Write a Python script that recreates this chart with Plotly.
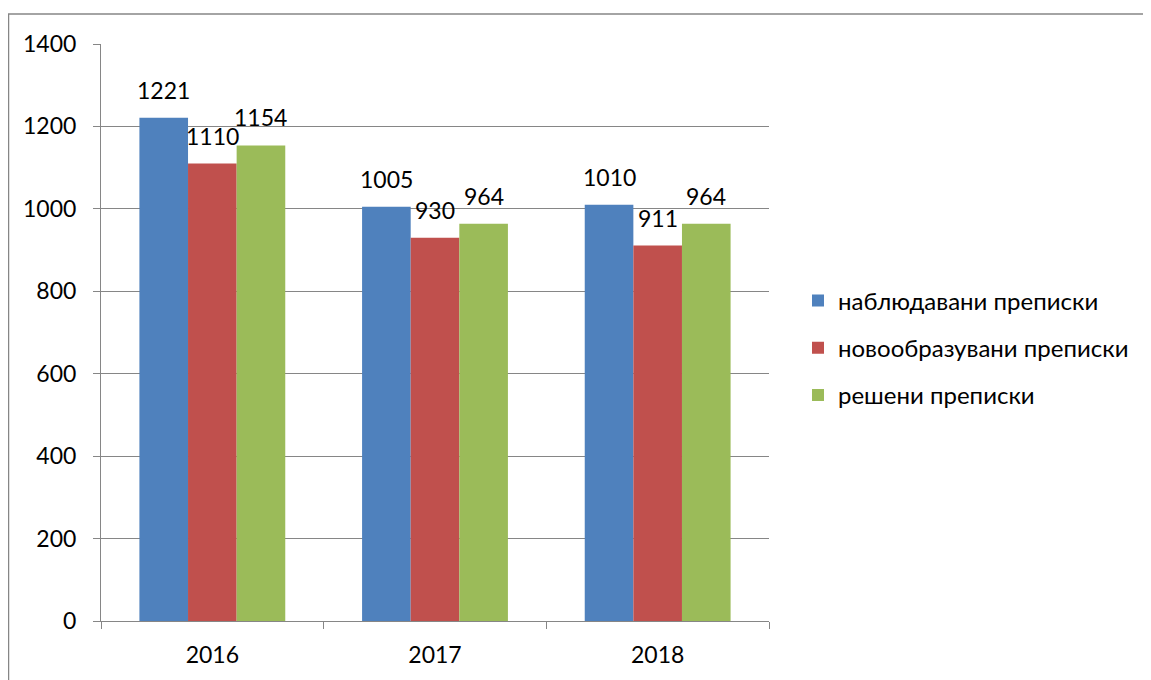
import plotly.graph_objects as go

years = ["2016", "2017", "2018"]
series_names = ["наблюдавани преписки", "новообразувани преписки", "решени преписки"]
observed = [1221, 1005, 1010]
new_cases = [1110, 930, 911]
resolved = [1154, 964, 964]
colors = ["#4F81BD", "#C0504D", "#9BBB59"]

FONT = "Lato"
OFF = 8  # page body margin
L, R, T, B = 101 - OFF, 769 - OFF, 44 - OFF, 621 - OFF
W, H = 1151 - OFF, 680 - OFF
BARGAP = 0.345
def px(x): return (x - OFF - L) / (R - L)
def py(y): return (B - (y - OFF)) / (B - T)

cat_px = (R - L) / len(years)
bar_px = cat_px * (1 - BARGAP) / 3

fig = go.Figure()
annotations = []
for i, (name, vals) in enumerate(zip(series_names, [observed, new_cases, resolved])):
    fig.add_trace(go.Bar(
        x=years, y=vals, name=name, marker=dict(color=colors[i], line=dict(width=0)),
        hoverinfo="x+y+name", legendgroup=f"g{i}",
    ))
    for j, v in enumerate(vals):
        annotations.append(dict(
            x=j, y=v, xref="x", yref="y", text=str(v), showarrow=False,
            xanchor="center", yanchor="bottom", xshift=(i - 1) * bar_px, yshift=12,
            font=dict(family=FONT, size=23, color="#000000"),
        ))

fig.update_layout(
    width=W, height=H,
    margin=dict(l=L, r=W - R, t=T, b=H - B),
    paper_bgcolor="white", plot_bgcolor="white",
    barmode="group", bargap=BARGAP, bargroupgap=0,
    font=dict(family=FONT, size=23, color="#000000"),
    showlegend=True,
    legend=dict(x=px(798), y=py(348), xanchor="left", yanchor="middle",
                font=dict(family=FONT, size=24), tracegroupgap=13,
                itemwidth=30, bgcolor="rgba(0,0,0,0)"),
    annotations=annotations,
    shapes=[dict(type="rect", xref="paper", yref="paper",
                 x0=px(8.5), x1=px(1170), y0=py(700), y1=py(14),
                 line=dict(color="#868686", width=1.5), fillcolor="rgba(0,0,0,0)", layer="below")],
)
fig.update_xaxes(type="category", range=[-0.5, len(years) - 0.5],
                 showline=True, linecolor="#868686", linewidth=1,
                 ticks="outside", tickson="boundaries", ticklen=7, tickcolor="#868686",
                 showgrid=False, tickfont=dict(family=FONT, size=23), ticklabelstandoff=13)
fig.update_yaxes(range=[0, 1400], dtick=200, showline=True, linecolor="#868686", linewidth=1,
                 ticks="outside", ticklen=7, tickcolor="#868686",
                 showgrid=True, gridcolor="#868686", gridwidth=1, zeroline=False,
                 tickfont=dict(family=FONT, size=23), ticklabelstandoff=12)
fig.write_html("out.html")
